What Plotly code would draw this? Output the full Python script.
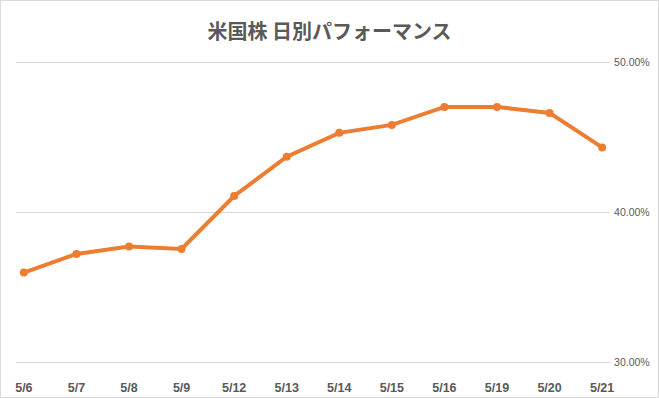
import plotly.graph_objects as go

dates = ["5/6", "5/7", "5/8", "5/9", "5/12", "5/13", "5/14", "5/15", "5/16", "5/19", "5/20", "5/21"]
performance = [0.3600, 0.3724, 0.3773, 0.3757, 0.4110, 0.4371, 0.4530, 0.4583, 0.4703, 0.4703, 0.4663, 0.4433]
y_ticks = [0.30, 0.40, 0.50]
title_text = "米国株 日別パフォーマンス"

W, H = 659, 398
ml, mr, mt, mb = 16, 49, 60, 33
pw, ph = W - ml - mr, H - mt - mb

fig = go.Figure()
fig.add_trace(go.Scatter(
    x=dates, y=performance, mode="lines+markers",
    line=dict(color="#ED7D31", width=4),
    marker=dict(color="#ED7D31", size=8),
    cliponaxis=False,
    hoverinfo="skip", showlegend=False,
))

fig.update_layout(
    width=W, height=H,
    margin=dict(l=ml, r=mr, t=mt, b=mb),
    paper_bgcolor="white", plot_bgcolor="white",
    title=dict(text=title_text, x=0.5, xref="container", xanchor="center",
               y=1 - 32 / H, yanchor="middle", automargin=False,
               font=dict(family="Noto Sans CJK JP", size=20, color="#595959", weight="bold")),
    xaxis=dict(type="category", range=[-0.15, len(dates) - 1 + 0.15], automargin=False,
               showgrid=False, zeroline=False, showline=False,
               ticks="outside", ticklen=11, tickcolor="rgba(0,0,0,0)",
               tickfont=dict(family="Liberation Sans", size=12.5, color="#595959", weight="bold")),
    yaxis=dict(range=[0.2985, 0.5015], side="right", tickvals=y_ticks, tickformat=".2%",
               automargin=False,
               showgrid=True, gridcolor="#D9D9D9", gridwidth=1, zeroline=False, showline=False,
               ticks="outside", ticklen=1, tickcolor="rgba(0,0,0,0)",
               tickfont=dict(family="Liberation Sans", size=10.5, color="#595959")),
    shapes=[dict(type="rect", xref="paper", yref="paper",
                 x0=(0.5 - ml) / pw, x1=(W - 0.5 - ml) / pw,
                 y0=-(mb - 0.5) / ph, y1=1 + (mt - 0.5) / ph,
                 line=dict(color="#D9D9D9", width=1), layer="below")],
)

fig.write_html("out.html")
